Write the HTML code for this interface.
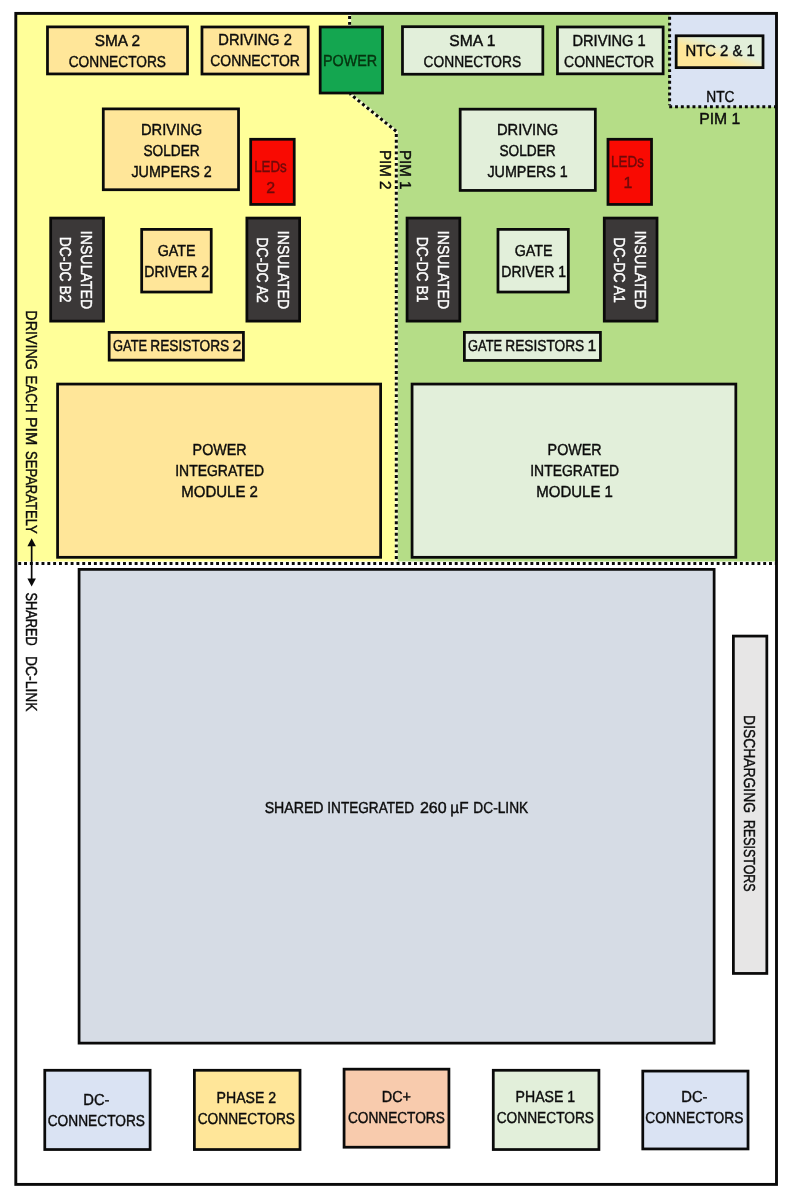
<!DOCTYPE html>
<html><head><meta charset="utf-8"><title>Dual PIM inverter board floorplan</title>
<style>
html,body{margin:0;padding:0;background:#fff;}
body{width:794px;height:1200px;position:relative;overflow:hidden;font-family:"Liberation Sans",sans-serif;color:#0c0c0c;}
#bg{position:absolute;left:0;top:0;}
.b,.l{position:absolute;display:flex;align-items:center;justify-content:center;text-align:center;font-size:15.9px;line-height:20.9px;white-space:nowrap;-webkit-text-stroke:0.42px currentColor;text-rendering:geometricPrecision;will-change:transform;}
.b>div,.l>div{position:relative;}
.v>div{writing-mode:vertical-rl;}
.b span,.l span{display:block;transform-origin:50% 50%;}
.cwh{color:#fff;}
.crd{color:#6e0a0a;}
.cpw{color:#06330f;}
</style></head><body>

<svg id="bg" width="794" height="1200" viewBox="0 0 794 1200">
<defs><linearGradient id="g1" x1="0" y1="1" x2="1" y2="0"><stop offset="0" stop-color="#ffe699"/><stop offset="0.38" stop-color="#ffe699"/><stop offset="0.6" stop-color="#e2efda"/><stop offset="1" stop-color="#e2efda"/></linearGradient></defs>
<polygon points="16,13.4 349.6,13.4 349.6,60 350.8,94.4 396.3,131.4 396.3,561.6 16,561.6" fill="#ffff99"/>
<polygon points="349.6,13.4 776.5,13.4 776.5,561.6 396.3,561.6 396.3,131.4 350.8,94.4 349.6,60" fill="#b5dd87"/>
<rect x="669.6" y="13.4" width="107" height="93.4" fill="#dae3f3"/>
<polyline points="349.6,13.3 349.6,60 350.8,94.4 396.3,131.4 396.3,563" fill="none" stroke="#f9fcd4" stroke-width="3"/>
<g fill="none" stroke="#0a0a0a" stroke-width="3" stroke-dasharray="2.9 2.92">
<polyline points="349.6,13.3 349.6,60 350.8,94.4 396.3,131.4" stroke-dashoffset="3"/>
<line x1="396.3" y1="131.4" x2="396.3" y2="560" stroke-dasharray="2.9 2.88" stroke-dashoffset="-2.65"/>
<line x1="16" y1="563.4" x2="776.5" y2="563.4" stroke-dashoffset="-2.25"/>
<line x1="669.6" y1="13.4" x2="669.6" y2="105.3" stroke-dashoffset="-3.43"/>
<line x1="668.1" y1="106.8" x2="776.5" y2="106.8" stroke-dashoffset="-1.13"/>
</g>
<rect x="15.8" y="13.4" width="760.7" height="1171" fill="none" stroke="#0a0a0a" stroke-width="2.9"/>
<g fill="#0a0a0a"><rect x="30.8" y="544" width="1.7" height="37"/><polygon points="31.65,538.2 27.4,546.2 35.9,546.2"/><polygon points="31.65,586.6 27.4,578.6 35.9,578.6"/></g>
<g stroke="#0a0a0a" stroke-width="2.75">
<rect x="47.48" y="26.88" width="140.05" height="47.05" fill="#ffe699"/>
<rect x="201.97" y="26.98" width="106.25" height="47.05" fill="#ffe699"/>
<rect x="320.18" y="26.98" width="62.35" height="66.05" fill="#14a650"/>
<rect x="402.48" y="26.68" width="140.35" height="47.55" fill="#e2efda"/>
<rect x="557.48" y="26.98" width="105.65" height="46.85" fill="#e2efda"/>
<rect x="676.17" y="35.77" width="86.85" height="31.85" fill="url(#g1)"/>
<rect x="103.28" y="108.88" width="135.25" height="80.85" fill="#ffe699"/>
<rect x="250.68" y="139.28" width="43.55" height="65.15" fill="#f90a02"/>
<rect x="460.18" y="109.17" width="135.15" height="81.25" fill="#e2efda"/>
<rect x="607.98" y="139.28" width="43.55" height="65.15" fill="#f90a02"/>
<rect x="50.67" y="218.07" width="52.85" height="103.05" fill="#3b3838"/>
<rect x="141.68" y="229.38" width="69.55" height="62.65" fill="#ffe699"/>
<rect x="246.88" y="218.07" width="52.75" height="103.05" fill="#3b3838"/>
<rect x="407.07" y="218.07" width="52.75" height="103.05" fill="#3b3838"/>
<rect x="497.98" y="229.38" width="70.35" height="62.65" fill="#e2efda"/>
<rect x="604.27" y="218.07" width="52.75" height="103.05" fill="#3b3838"/>
<rect x="109.17" y="332.38" width="134.25" height="27.75" fill="#ffe699"/>
<rect x="464.38" y="332.38" width="136.05" height="28.05" fill="#e2efda"/>
<rect x="57.58" y="384.07" width="323.05" height="173.25" fill="#ffe699"/>
<rect x="412.07" y="384.07" width="323.75" height="173.25" fill="#e2efda"/>
<rect x="79.08" y="569.38" width="635.05" height="473.75" fill="#d6dce5"/>
<rect x="733.38" y="636.08" width="33.45" height="337.35" fill="#e7e6e6"/>
<rect x="44.77" y="1070.28" width="105.35" height="79.25" fill="#dae3f3"/>
<rect x="194.38" y="1070.28" width="105.65" height="79.25" fill="#ffe699"/>
<rect x="344.07" y="1069.17" width="104.85" height="78.05" fill="#f8cbad"/>
<rect x="493.27" y="1070.28" width="105.65" height="79.25" fill="#e2efda"/>
<rect x="642.77" y="1071.08" width="105.25" height="77.85" fill="#dae3f3"/>
</g></svg>
<div class="b" style="left:46.1px;top:25.5px;width:142.8px;height:49.8px"><div style="top:1.8px"><span id="sma2_0" style="transform:scaleX(0.9677)">SMA 2</span><span id="sma2_1" style="transform:scaleX(0.8632)">CONNECTORS</span></div></div>
<div class="b" style="left:200.6px;top:25.6px;width:109.0px;height:49.8px"><div style="top:1.5px;left:-0.4px"><span id="drv2_0" style="transform:scaleX(0.9249)">DRIVING 2</span><span id="drv2_1" style="transform:scaleX(0.8783)">CONNECTOR</span></div></div>
<div class="b cpw" style="left:318.8px;top:25.6px;width:65.1px;height:68.8px"><div style="top:1.8px;left:-1.8px"><span id="pwr_0" style="transform:scaleX(0.9026)">POWER</span></div></div>
<div class="b" style="left:401.1px;top:25.3px;width:143.1px;height:50.3px"><div style="top:2.6px"><span id="sma1_0" style="transform:scaleX(0.9826)">SMA 1</span><span id="sma1_1" style="transform:scaleX(0.8659)">CONNECTORS</span></div></div>
<div class="b" style="left:556.1px;top:25.6px;width:108.4px;height:49.6px"><div style="top:1.8px;left:-1.0px"><span id="drv1_0" style="transform:scaleX(0.9224)">DRIVING 1</span><span id="drv1_1" style="transform:scaleX(0.8813)">CONNECTOR</span></div></div>
<div class="b" style="left:674.8px;top:34.4px;width:89.6px;height:34.6px"><div style="top:1.6px;left:-0.2px"><span id="ntc21_0" style="transform:scaleX(0.9355)">NTC 2 &amp; 1</span></div></div>
<div class="b" style="left:101.9px;top:107.5px;width:138.0px;height:83.6px"><div style="top:3.0px;left:0.7px"><span id="jmp2_0" style="transform:scaleX(0.9257)">DRIVING</span><span id="jmp2_1" style="transform:scaleX(0.8614)">SOLDER</span><span id="jmp2_2" style="transform:scaleX(0.9004)">JUMPERS 2</span></div></div>
<div class="b crd" style="left:249.3px;top:137.9px;width:46.3px;height:67.9px"><div style="top:7.4px;left:-1.5px"><span id="led2_0" style="transform:scaleX(0.8389)">LEDs</span><span id="led2_1">2</span></div></div>
<div class="b" style="left:458.8px;top:107.8px;width:137.9px;height:84.0px"><div style="top:2.6px;left:0.0px"><span id="jmp1_0" style="transform:scaleX(0.9257)">DRIVING</span><span id="jmp1_1" style="transform:scaleX(0.8614)">SOLDER</span><span id="jmp1_2" style="transform:scaleX(0.9004)">JUMPERS 1</span></div></div>
<div class="b crd" style="left:606.6px;top:137.9px;width:46.3px;height:67.9px"><div style="top:2.4px;left:-2.3px"><span id="led1_0" style="transform:scaleX(0.8466)">LEDs</span><span id="led1_1">1</span></div></div>
<div class="b v cwh" style="left:49.3px;top:216.7px;width:55.6px;height:105.8px"><div style="left:-3.0px"><span id="b2_0" style="transform:scaleY(0.8896)">INSULATED</span><span id="b2_1" style="transform:scaleY(0.8741)">DC-DC B2</span></div></div>
<div class="b" style="left:140.3px;top:228.0px;width:72.3px;height:65.4px"><div style="top:2.2px"><span id="gd2_0" style="transform:scaleX(0.8980)">GATE</span><span id="gd2_1" style="transform:scaleX(0.8841)">DRIVER 2</span></div></div>
<div class="b v cwh" style="left:245.5px;top:216.7px;width:55.5px;height:105.8px"><div style="left:-3.0px"><span id="a2_0" style="transform:scaleY(0.8896)">INSULATED</span><span id="a2_1" style="transform:scaleY(0.8844)">DC-DC A2</span></div></div>
<div class="b v cwh" style="left:405.7px;top:216.7px;width:55.5px;height:105.8px"><div style="left:-3.0px"><span id="b1_0" style="transform:scaleY(0.8896)">INSULATED</span><span id="b1_1" style="transform:scaleY(0.8741)">DC-DC B1</span></div></div>
<div class="b" style="left:496.6px;top:228.0px;width:73.1px;height:65.4px"><div style="top:2.2px"><span id="gd1_0" style="transform:scaleX(0.8980)">GATE</span><span id="gd1_1" style="transform:scaleX(0.8841)">DRIVER 1</span></div></div>
<div class="b v cwh" style="left:602.9px;top:216.7px;width:55.5px;height:105.8px"><div style="left:-3.0px"><span id="a1_0" style="transform:scaleY(0.8896)">INSULATED</span><span id="a1_1" style="transform:scaleY(0.8844)">DC-DC A1</span></div></div>
<div class="b" style="left:107.8px;top:331.0px;width:137.0px;height:30.5px"><div style="top:1.3px"></div></div>
<div class="b" style="left:463.0px;top:331.0px;width:138.8px;height:30.8px"><div style="top:1.3px"></div></div>
<div class="b" style="left:56.2px;top:382.7px;width:325.8px;height:176.0px"><div style="top:1.8px;left:0.7px"><span id="pim2_0" style="transform:scaleX(0.8993)">POWER</span><span id="pim2_1" style="transform:scaleX(0.8772)">INTEGRATED</span><span id="pim2_2" style="transform:scaleX(0.9440)">MODULE 2</span></div></div>
<div class="b" style="left:410.7px;top:382.7px;width:326.5px;height:176.0px"><div style="top:1.8px;left:0.5px"><span id="pim1_0" style="transform:scaleX(0.8993)">POWER</span><span id="pim1_1" style="transform:scaleX(0.8772)">INTEGRATED</span><span id="pim1_2" style="transform:scaleX(0.9440)">MODULE 1</span></div></div>
<div class="b" style="left:77.7px;top:568.0px;width:637.8px;height:476.5px"><div style="top:2.4px;left:-0.8px"></div></div>
<div class="b v" style="left:732.0px;top:634.7px;width:36.2px;height:340.1px"><div style="left:-2.4px;top:-1.6px"></div></div>
<div class="b" style="left:43.4px;top:1068.9px;width:108.1px;height:82.0px"><div style="top:2.1px;left:-0.6px"><span id="dcm1_0" style="transform:scaleX(0.9310)">DC-</span><span id="dcm1_1" style="transform:scaleX(0.8632)">CONNECTORS</span></div></div>
<div class="b" style="left:193.0px;top:1068.9px;width:108.4px;height:82.0px"><div style="top:0.4px;left:-0.8px"><span id="ph2_0" style="transform:scaleX(0.8864)">PHASE 2</span><span id="ph2_1" style="transform:scaleX(0.8632)">CONNECTORS</span></div></div>
<div class="b" style="left:342.7px;top:1067.8px;width:107.6px;height:80.8px"><div style="top:0.4px"><span id="dcp_0" style="transform:scaleX(0.9090)">DC+</span><span id="dcp_1" style="transform:scaleX(0.8588)">CONNECTORS</span></div></div>
<div class="b" style="left:491.9px;top:1068.9px;width:108.4px;height:82.0px"><div style="top:-1.3px;left:-1.0px"><span id="ph1_0" style="transform:scaleX(0.8864)">PHASE 1</span><span id="ph1_1" style="transform:scaleX(0.8632)">CONNECTORS</span></div></div>
<div class="b" style="left:641.4px;top:1069.7px;width:108.0px;height:80.6px"><div style="top:-1.4px;left:-0.6px"><span id="dcm2_0" style="transform:scaleX(0.9310)">DC-</span><span id="dcm2_1" style="transform:scaleX(0.8694)">CONNECTORS</span></div></div>
<div class="l" style="left:599.6px;top:-21.6px;width:240px;height:240px"><div><span id="lntc_0" style="transform:scaleX(0.8662)">NTC</span></div></div>
<div class="l" style="left:599.5px;top:-0.4px;width:240px;height:240px"><div><span id="lpim1_0" style="transform:scaleX(0.9900)">PIM 1</span></div></div>
<div class="l v" style="left:283.6px;top:49.9px;width:240px;height:240px"><div><span id="vpim1_0" style="transform:scaleY(0.9539)">PIM 1</span></div></div>
<div class="l v" style="left:263.5px;top:49.9px;width:240px;height:240px"><div><span id="vpim2_0" style="transform:scaleY(0.9539)">PIM 2</span></div></div>
<div class="l v" style="left:-90.3px;top:219.6px;width:240px;height:240px"><div><span id="vdrv0_0" style="transform:scaleY(0.9000)">DRIVING</span></div></div>
<div class="l v" style="left:-90.3px;top:274.0px;width:240px;height:240px"><div><span id="vdrv1_0" style="transform:scaleY(0.8402)">EACH</span></div></div>
<div class="l v" style="left:-90.3px;top:311.4px;width:240px;height:240px"><div><span id="vdrv2_0" style="transform:scaleY(1.0083)">PIM</span></div></div>
<div class="l v" style="left:-90.3px;top:371.5px;width:240px;height:240px"><div><span id="vdrv3_0" style="transform:scaleY(0.8204)">SEPARATELY</span></div></div>
<div class="l v" style="left:-90.2px;top:499.1px;width:240px;height:240px"><div><span id="vshr0_0" style="transform:scaleY(0.8017)">SHARED</span></div></div>
<div class="l v" style="left:-90.2px;top:564.0px;width:240px;height:240px"><div><span id="vshr1_0" style="transform:scaleY(0.8714)">DC-LINK</span></div></div>
<div class="l v" style="left:628.0px;top:643.7px;width:240px;height:240px"><div><span id="vdis0_0" style="transform:scaleY(0.8730)">DISCHARGING</span></div></div>
<div class="l v" style="left:628.0px;top:736.0px;width:240px;height:240px"><div><span id="vdis1_0" style="transform:scaleY(0.7832)">RESISTORS</span></div></div>
<div class="l" style="left:173.8px;top:688.5px;width:240px;height:240px"><div><span id="hdcl0_0" style="transform:scaleX(0.8893)">SHARED</span></div></div>
<div class="l" style="left:251.4px;top:688.5px;width:240px;height:240px"><div><span id="hdcl1_0" style="transform:scaleX(0.8564)">INTEGRATED</span></div></div>
<div class="l" style="left:312.9px;top:688.5px;width:240px;height:240px"><div><span id="hdcl2_0" style="transform:scaleX(1.0070)">260</span></div></div>
<div class="l" style="left:339.2px;top:688.5px;width:240px;height:240px"><div><span id="hdcl3_0" style="transform:scaleX(0.9642)">µF</span></div></div>
<div class="l" style="left:380.6px;top:688.5px;width:240px;height:240px"><div><span id="hdcl4_0" style="transform:scaleX(0.8635)">DC-LINK</span></div></div>
<div class="l" style="left:9.7px;top:227.3px;width:240px;height:240px"><div><span id="hgr20_0" style="transform:scaleX(0.8101)">GATE</span></div></div>
<div class="l" style="left:70.2px;top:227.3px;width:240px;height:240px"><div><span id="hgr21_0" style="transform:scaleX(0.8629)">RESISTORS</span></div></div>
<div class="l" style="left:117.2px;top:227.3px;width:240px;height:240px"><div><span id="hgr22_0">2</span></div></div>
<div class="l" style="left:364.9px;top:227.3px;width:240px;height:240px"><div><span id="hgr10_0" style="transform:scaleX(0.8101)">GATE</span></div></div>
<div class="l" style="left:425.4px;top:227.3px;width:240px;height:240px"><div><span id="hgr11_0" style="transform:scaleX(0.8629)">RESISTORS</span></div></div>
<div class="l" style="left:472.3px;top:227.3px;width:240px;height:240px"><div><span id="hgr12_0">1</span></div></div>
</body></html>
